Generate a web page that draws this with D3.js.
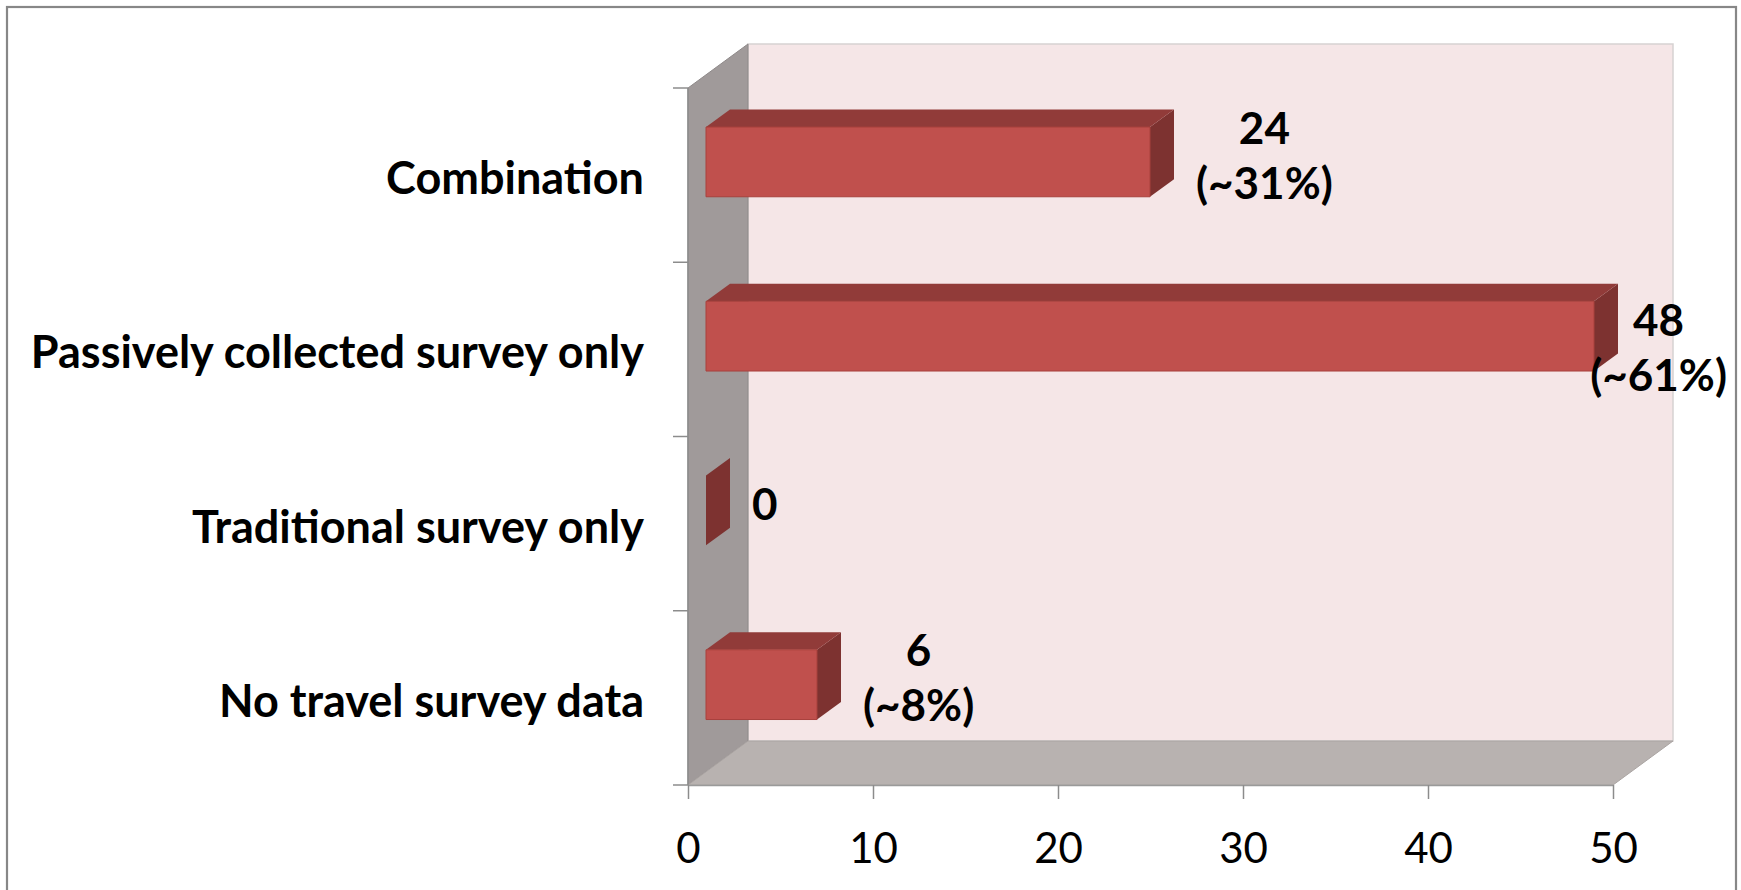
<!DOCTYPE html>
<html>
<head>
<meta charset="utf-8">
<script src="https://cdn.jsdelivr.net/npm/d3@7"></script>
<style>
  html, body { margin: 0; padding: 0; background: #ffffff; }
  svg { display: block; }
  text { font-family: Lato, "Open Sans", sans-serif; }
</style>
</head>
<body>
<svg id="chart" width="1741" height="890"></svg>
<script>
// Survey data sources by category
const categories = [
  "Combination",
  "Passively collected survey only",
  "Traditional survey only",
  "No travel survey data"
];
const counts = [24, 48, 0, 6];
const shares = ["(~31%)", "(~61%)", "", "(~8%)"];
const xTicks = [0, 10, 20, 30, 40, 50];

const W = 1741, H = 890;
const svg = d3.select("#chart");

// Front plane of the 3-D plot box and its depth offset
const plot = { left: 688, right: 1613, top: 88, bottom: 785 };
const DX = 60, DY = -44;
const proj = (px, py, d) => [px + d * DX, py + d * DY];
const poly = pts => pts.map(p => p.join(",")).join(" ");

const x = d3.scaleLinear().domain([0, 50]).range([plot.left, plot.right]);
const y = d3.scaleBand().domain(categories).range([plot.top, plot.bottom])
  .paddingInner(0.6).paddingOuter(0.3);

// Outer chart border
svg.append("rect")
  .attr("x", 7).attr("y", 7).attr("width", 1729).attr("height", 920)
  .attr("fill", "#ffffff").attr("stroke", "#878787").attr("stroke-width", 2.2);

// Back wall
const bw = [proj(plot.left, plot.top, 1), proj(plot.right, plot.top, 1),
            proj(plot.right, plot.bottom, 1), proj(plot.left, plot.bottom, 1)];
svg.append("polygon").attr("points", poly(bw))
  .attr("fill", "#f5e6e7").attr("stroke", "#d6d2d2").attr("stroke-width", 1.5);

// Side wall
const sw = [[plot.left, plot.top], proj(plot.left, plot.top, 1),
            proj(plot.left, plot.bottom, 1), [plot.left, plot.bottom]];
svg.append("polygon").attr("points", poly(sw))
  .attr("fill", "#a09a9a").attr("stroke", "#8f8a8a").attr("stroke-width", 1);

// Floor
const fl = [[plot.left, plot.bottom], proj(plot.left, plot.bottom, 1),
            proj(plot.right, plot.bottom, 1), [plot.right, plot.bottom]];
svg.append("polygon").attr("points", poly(fl))
  .attr("fill", "#b8b2b0").attr("stroke", "#aaa4a2").attr("stroke-width", 1);

// Vertical axis: tick marks at category boundaries
const bounds = d3.range(categories.length + 1).map(i => plot.top + i * y.step());
svg.append("g").selectAll("line").data(bounds).join("line")
  .attr("x1", plot.left - 15).attr("x2", plot.left)
  .attr("y1", d => d).attr("y2", d => d)
  .attr("stroke", "#8c8c8c").attr("stroke-width", 1.5);
svg.append("line")
  .attr("x1", plot.left).attr("x2", plot.left)
  .attr("y1", plot.top).attr("y2", plot.bottom)
  .attr("stroke", "#8c8c8c").attr("stroke-width", 1.5);

// Horizontal axis
const xAxis = svg.append("g")
  .attr("transform", `translate(0,${plot.bottom})`)
  .call(d3.axisBottom(x).tickValues(xTicks).tickSize(14).tickSizeOuter(0));
xAxis.select(".domain").attr("stroke", "#9a9a9a").attr("stroke-width", 1.5);
xAxis.selectAll(".tick line").attr("stroke", "#8c8c8c").attr("stroke-width", 1.5);
xAxis.selectAll(".tick text")
  .attr("y", 78).attr("dy", 0)
  .attr("font-family", "Lato, sans-serif")
  .attr("font-size", 42).attr("fill", "#000");

// Category labels
svg.append("g").selectAll("text").data(categories).join("text")
  .attr("x", 644)
  .attr("y", d => y(d) + y.bandwidth() / 2 + 19)
  .attr("text-anchor", "end")
  .attr("font-size", 45).attr("font-weight", 700).attr("fill", "#000")
  .text(d => d);

// 3-D bars: right end, top, and front faces
const D0 = 0.3, D1 = 0.7;
const bars = svg.append("g").selectAll("g").data(categories).join("g");
bars.each(function (c, i) {
  const g = d3.select(this);
  const x0 = x(0), x1 = x(counts[i]);
  const yt = y(c), yb = y(c) + y.bandwidth();
  // end face
  g.append("polygon")
    .attr("points", poly([proj(x1, yt, D0), proj(x1, yt, D1), proj(x1, yb, D1), proj(x1, yb, D0)]))
    .attr("fill", "#7d3230");
  // top face
  g.append("polygon")
    .attr("points", poly([proj(x0, yt, D0), proj(x0, yt, D1), proj(x1, yt, D1), proj(x1, yt, D0)]))
    .attr("fill", "#913b39");
  // front face
  if (counts[i] > 0) {
    g.append("polygon")
      .attr("points", poly([proj(x0, yt, D0), proj(x1, yt, D0), proj(x1, yb, D0), proj(x0, yb, D0)]))
      .attr("fill", "#c0504d").attr("stroke", "#a8403d").attr("stroke-width", 1);
  }
});

// Value labels beside each bar end
const labelMaxRight = 1727;
const labels = svg.append("g");
categories.forEach((c, i) => {
  const lines = shares[i] ? [String(counts[i]), shares[i]] : [String(counts[i])];
  const gl = labels.append("g");
  const tx = gl.selectAll("text").data(lines).join("text")
    .attr("text-anchor", "middle")
    .attr("font-size", 44).attr("font-weight", 700).attr("fill", "#000")
    .text(d => d);
  const wMax = d3.max(tx.nodes(), n => n.getComputedTextLength());
  const endX = x(counts[i]) + D1 * DX;
  let left = endX + 22;
  let shiftY = 0;
  if (left + wMax > labelMaxRight) { left = labelMaxRight - wMax; shiftY = 18; }
  const cx = left + wMax / 2;
  const cy = y(c) + y.bandwidth() / 2 + 0.5 * DY + 3 + shiftY;
  const lh = 55;
  const n = lines.length;
  tx.attr("x", cx)
    .attr("y", (d, k) => cy + (k - (n - 1) / 2) * lh + 15);
});
</script>
</body>
</html>
